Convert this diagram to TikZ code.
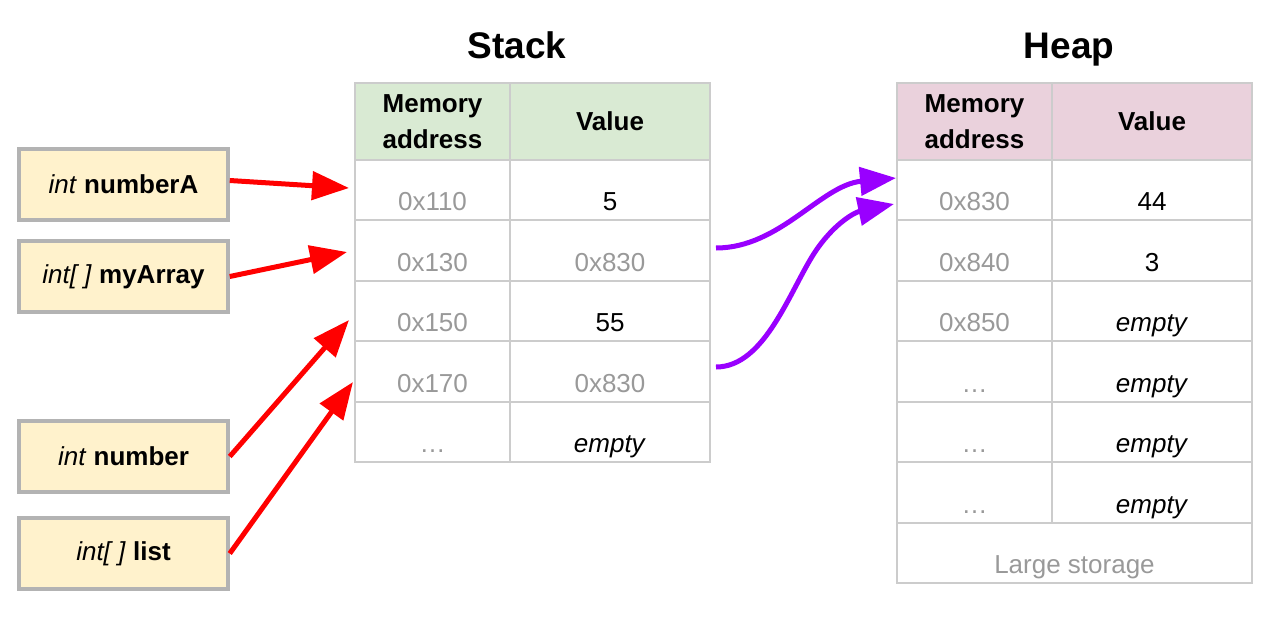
\documentclass[tikz,border=0pt]{standalone}
\usepackage{fontspec}
\setmainfont{Liberation Sans}
\usetikzlibrary{arrows.meta,positioning,calc}
\definecolor{grid}{HTML}{CCCCCC}
\definecolor{addr}{HTML}{999999}
\definecolor{varfill}{HTML}{FFF2CC}
\definecolor{varline}{HTML}{B3B3B3}
\definecolor{stackhead}{HTML}{D9EAD3}
\definecolor{heaphead}{HTML}{EAD1DC}
\definecolor{ptr}{HTML}{9900FF}
\definecolor{ref}{HTML}{FF0000}
\tikzset{
  every node/.style={font=\fontsize{26}{31}\selectfont,text=black},
  title/.style={anchor=base,font=\fontsize{37}{44}\selectfont\bfseries},
  varbox/.style={draw=varline,line width=3.5pt,fill=varfill,minimum width=209pt,minimum height=71pt,inner sep=0pt},
  cell/.style={draw=grid,line width=2pt,inner sep=0pt,text height=41pt,text depth=0pt,minimum height=60.5pt},
  acell/.style={cell,minimum width=155pt,text=addr},
  vcell/.style={cell,minimum width=200pt},
  head/.style={draw=grid,line width=2pt,minimum height=77pt,inner sep=0pt,align=center,font=\fontsize{26}{36}\selectfont\bfseries},
  refarrow/.style={-{Triangle[length=37pt,width=28pt]},line width=5pt,draw=ref},
  ptrarrow/.style={-{Triangle[length=36pt,width=28pt]},line width=5pt,draw=ptr},
}

\begin{document}
\begin{tikzpicture}[x=1pt,y=-1pt]
\useasboundingbox (0,0) rectangle (1286,621);

% left: variables
\node[varbox] (nA) at (123.5,184.5) {\textit{int} \textbf{numberA}};
\node[varbox] (arr) at (123.5,276.5) {\textit{int[ ]} \textbf{myArray}};
\node[varbox] (num) at (123.5,456.5) {\textit{int} \textbf{number}};
\node[varbox] (lst) at (123.5,553.5) {\textit{int[ ]} \textbf{list}};

% middle: stack
\node[title] (stackT) at (517,58.5) {Stack};
\node[head,fill=stackhead,minimum width=155pt] (sah) at (432.5,121.5) {Memory\\address};
\node[head,fill=stackhead,minimum width=200pt] (svh) at (610,121.5) {Value};
\foreach \i/\a/\v/\c in {1/0x110/5/black, 2/0x130/0x830/addr, 3/0x150/55/black, 4/0x170/0x830/addr, 5/…/\textit{empty}/black}{
  \node[acell] (sa\i) at (432.5,{190+(\i-1)*60.5}) {\a};
  \node[vcell,text=\c] (sv\i) at (610,{190+(\i-1)*60.5}) {\v};
}

% right: heap
\node[title] (heapT) at (1069,58.5) {Heap};
\node[head,fill=heaphead,minimum width=155pt] (hah) at (974.5,121.5) {Memory\\address};
\node[head,fill=heaphead,minimum width=200pt] (hvh) at (1152,121.5) {Value};
\foreach \i/\a/\v in {1/0x830/44, 2/0x840/3, 3/0x850/\textit{empty}, 4/…/\textit{empty}, 5/…/\textit{empty}, 6/…/\textit{empty}}{
  \node[acell] (ha\i) at (974.5,{190+(\i-1)*60.5}) {\a};
  \node[vcell] (hv\i) at (1152,{190+(\i-1)*60.5}) {\v};
}
\node[cell,minimum width=355pt,text=addr] (hls) at (1074.5,553) {Large storage};

% references into the stack
\draw[refarrow] ([yshift=4pt]nA.east) -- ($(sa1.west)+(-5,-2)$);
\draw[refarrow] (arr.east) -- ($(sa2.west)+(-7,1.5)$);
\draw[refarrow] (num.east) -- ($(sa3.west)+(-5,9)$);
\draw[refarrow] (lst.east) -- ($(sa4.west)+(-1,10.5)$);

% pointers into the heap
\draw[ptrarrow] ($(sv2.east)+(5,-2.5)$) .. controls +(64,0) and +(-75,7) .. ($(ha1.west)+(0,-12)$);
\draw[ptrarrow] ($(sv4.east)+(5,-4.5)$) .. controls +(49,0) and +(-25,38) .. ++(99,-115)
  .. controls +(20,-30) and +(-38,8) .. ($(ha1.west)+(-2,14)$);

\end{tikzpicture}
\end{document}
